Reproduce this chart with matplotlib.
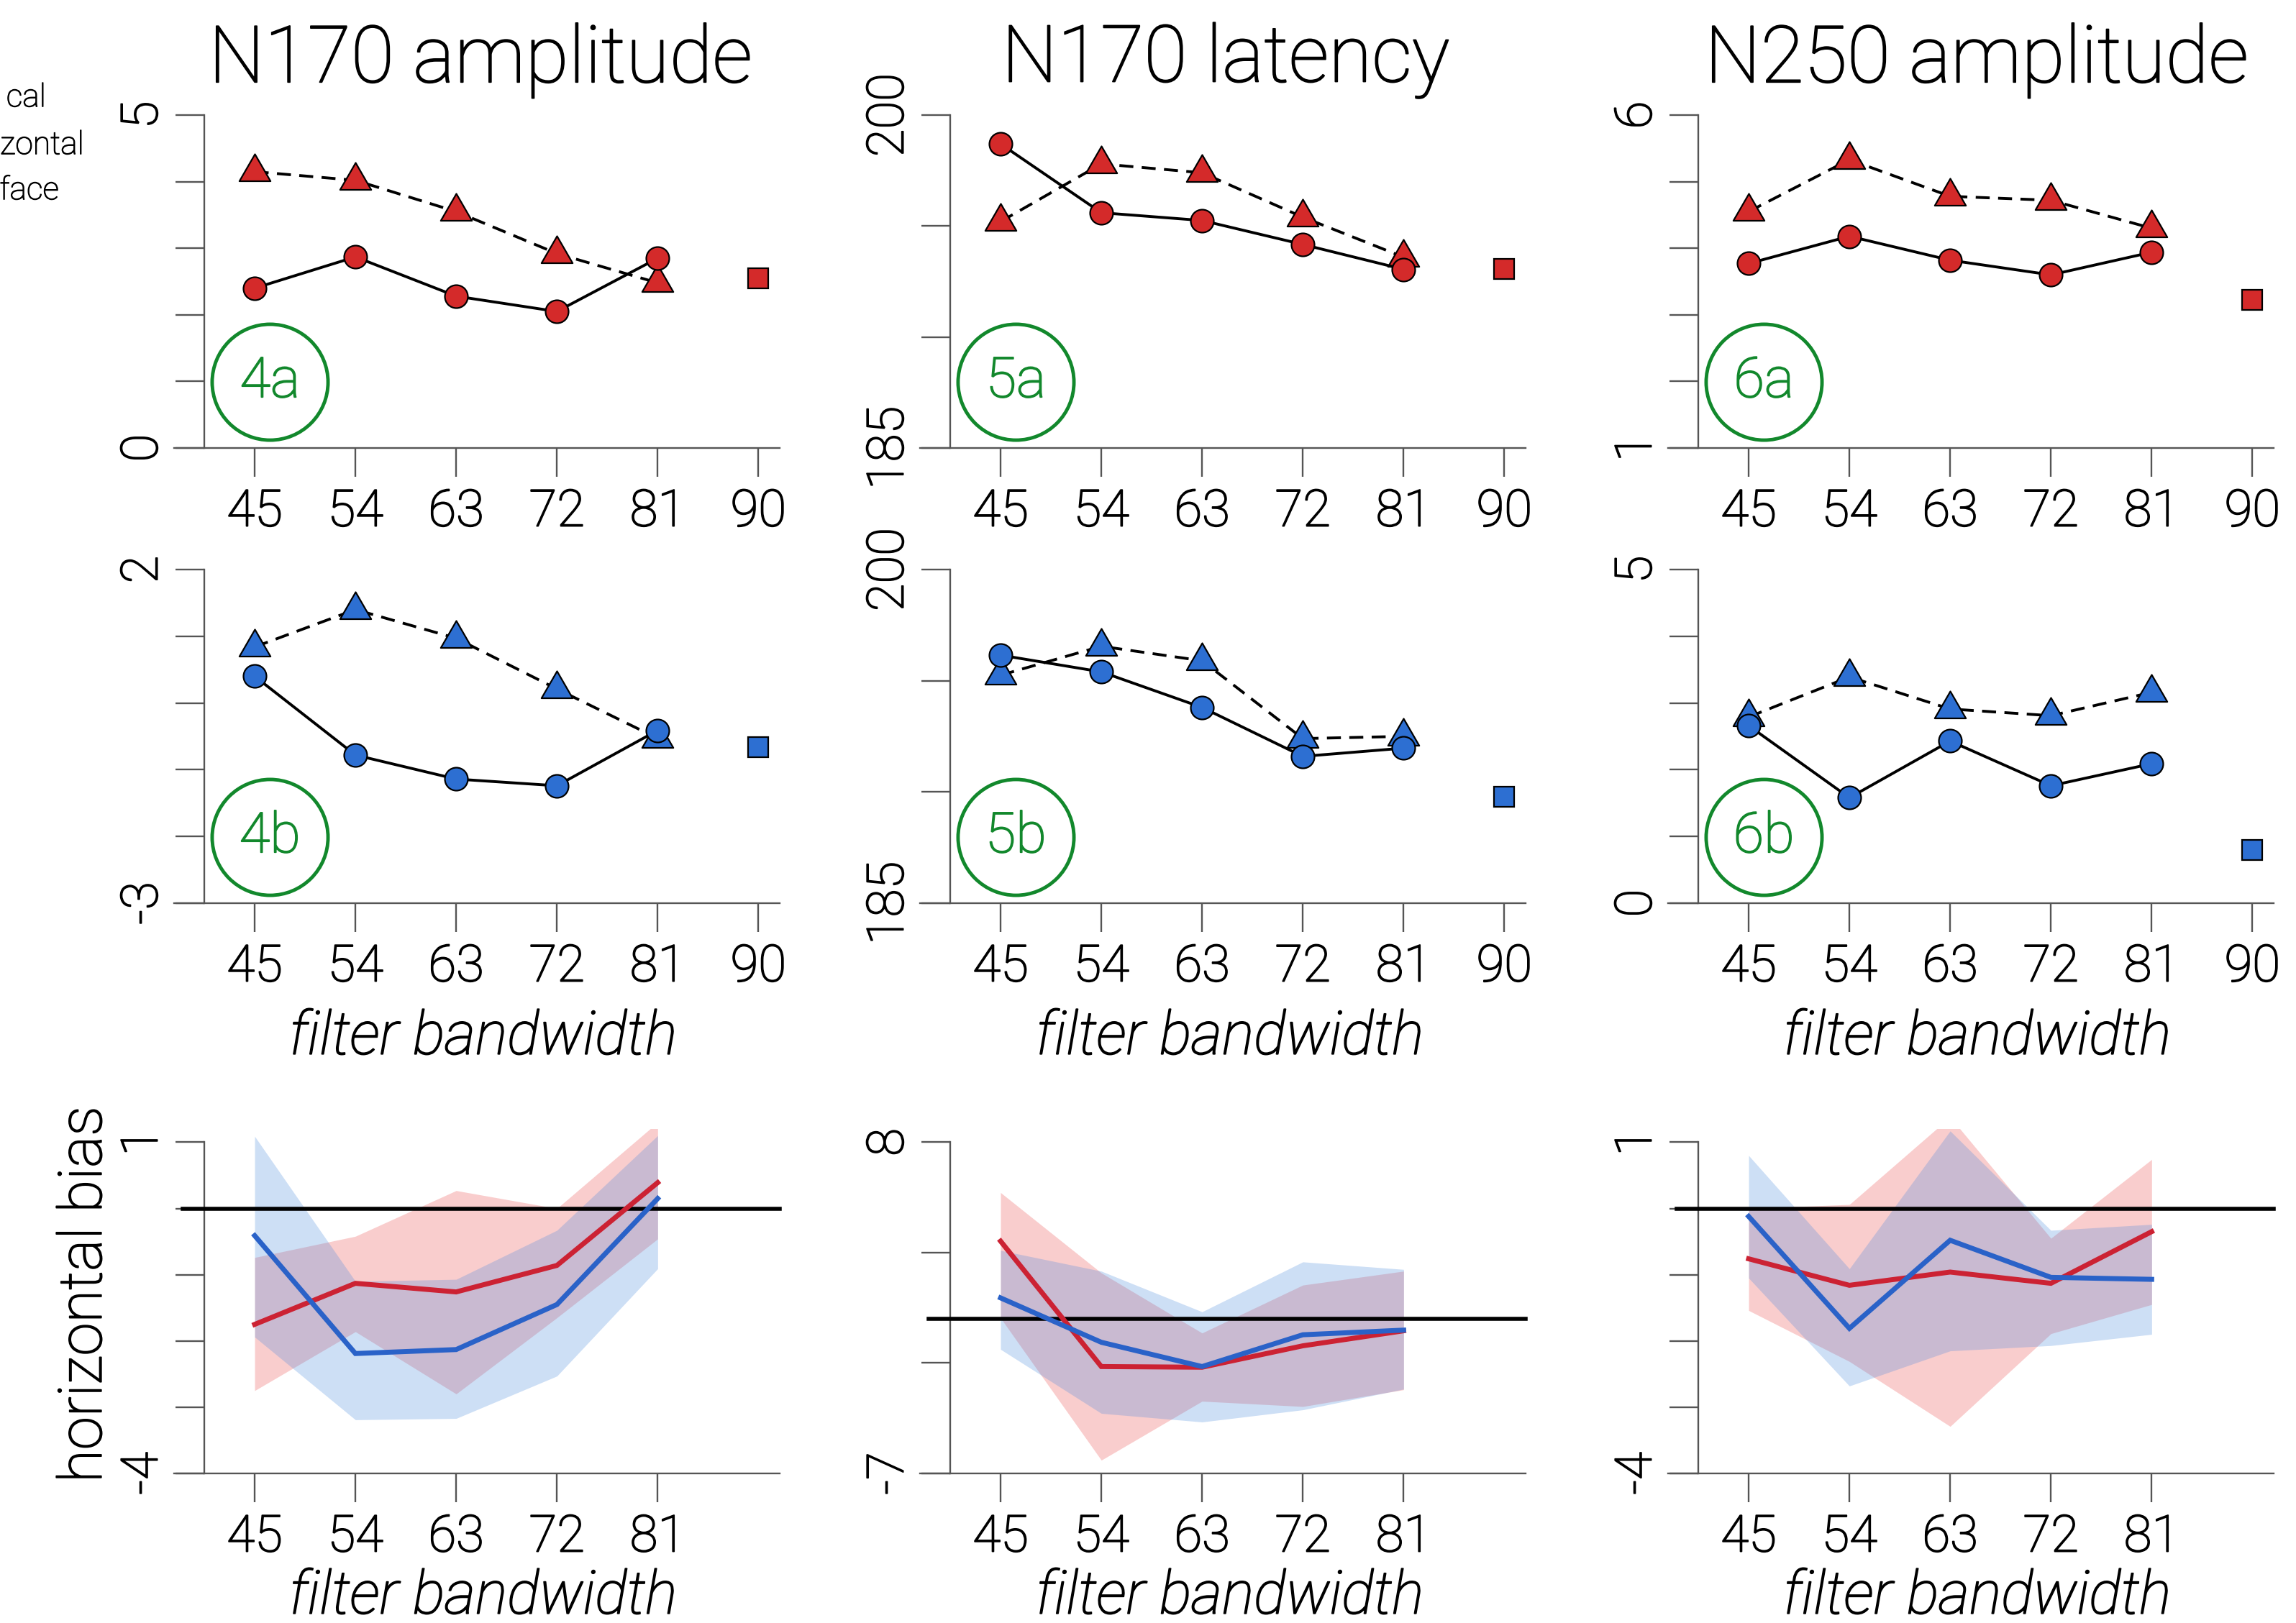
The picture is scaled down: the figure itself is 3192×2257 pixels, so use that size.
import matplotlib
matplotlib.use("Agg")
import matplotlib.pyplot as plt
from matplotlib.path import Path
from matplotlib import patheffects
import numpy as np

plt.rcParams['font.family'] = ['Roboto', 'DejaVu Sans']
plt.rcParams['font.weight'] = 'light'
plt.rcParams['axes.unicode_minus'] = False

# ---------------- data ----------------
bandwidth = [45, 54, 63, 72, 81]
full_bw = 90
tick_bw = [45, 54, 63, 72, 81, 90]

# N170 amplitude
amp170_a_circle = [2.40, 2.87, 2.28, 2.05, 2.85]
amp170_a_tri = [4.15, 4.02, 3.55, 2.92, 2.48]
amp170_a_sq = 2.55
amp170_b_circle = [0.40, -0.78, -1.14, -1.24, -0.41]
amp170_b_tri = [0.84, 1.40, 0.97, 0.21, -0.53]
amp170_b_sq = -0.66
# N170 latency
lat170_a_circle = [198.7, 195.6, 195.25, 194.17, 193.05]
lat170_a_tri = [195.2, 197.8, 197.4, 195.4, 193.6]
lat170_a_sq = 193.06
lat170_b_circle = [196.15, 195.4, 193.8, 191.6, 191.97]
lat170_b_tri = [195.25, 196.55, 195.9, 192.4, 192.5]
lat170_b_sq = 189.8
# N250 amplitude
amp250_a_circle = [3.77, 4.18, 3.82, 3.60, 3.94]
amp250_a_tri = [4.55, 5.33, 4.78, 4.72, 4.30]
amp250_a_sq = 3.23
amp250_b_circle = [2.66, 1.58, 2.43, 1.76, 2.09]
amp250_b_tri = [2.79, 3.39, 2.91, 2.81, 3.16]
amp250_b_sq = 0.80

# horizontal bias (bottom row)
b170amp_red = [-1.75, -1.13, -1.26, -0.86, 0.39]
b170amp_red_lo = [-2.75, -1.86, -2.80, -1.65, -0.46]
b170amp_red_hi = [-0.74, -0.42, 0.27, 0.0, 1.3]
b170amp_blue = [-0.41, -2.19, -2.13, -1.45, 0.15]
b170amp_blue_lo = [-1.94, -3.19, -3.17, -2.53, -0.91]
b170amp_blue_hi = [1.09, -1.10, -1.07, -0.33, 1.10]

b170lat_red = [3.52, -2.16, -2.19, -1.22, -0.54]
b170lat_red_lo = [0.04, -6.40, -3.73, -3.97, -3.21]
b170lat_red_hi = [5.72, 2.08, -0.64, 1.53, 2.16]
b170lat_blue = [0.95, -1.06, -2.16, -0.72, -0.51]
b170lat_blue_lo = [-1.38, -4.28, -4.67, -4.12, -3.18]
b170lat_blue_hi = [3.10, 2.16, 0.32, 2.58, 2.24]

b250amp_red = [-0.76, -1.16, -0.96, -1.13, -0.35]
b250amp_red_lo = [-1.54, -2.31, -3.29, -1.89, -1.45]
b250amp_red_hi = [0.0, 0.06, 1.38, -0.45, 0.74]
b250amp_blue = [-0.12, -1.81, -0.48, -1.04, -1.07]
b250amp_blue_lo = [-1.05, -2.68, -2.15, -2.07, -1.90]
b250amp_blue_hi = [0.80, -0.91, 1.17, -0.33, -0.24]

titles = ["N170 amplitude", "N170 latency", "N250 amplitude"]
panel_tags_a = ["4a", "5a", "6a"]
panel_tags_b = ["4b", "5b", "6b"]
legend_fragments = ["cal", "zontal", "face"]
yr_a = [(0, 5, 1), (185, 200, 5), (1, 6, 1)]
yr_b = [(-3, 2, 1), (185, 200, 5), (0, 5, 1)]
yr_c = [(-4, 1, 1), (-7, 8, 5), (-4, 1, 1)]

# ---------------- style ----------------
RED = '#d42a2a'
BLUE = '#2d6fd2'
LRED = '#cc2233'
LBLUE = '#2a62c8'
GREEN = '#12882c'
AXC = '#555555'
W, H = 3192, 2257
XL = (40.5, 91.9)


def thick(color='black', lw=1.2):
    return [patheffects.withStroke(linewidth=lw, foreground=color)]


tri = Path([(0, 1), (-0.866, -0.5), (0.866, -0.5), (0, 1)],
           [Path.MOVETO, Path.LINETO, Path.LINETO, Path.CLOSEPOLY])

fig = plt.figure(figsize=(W / 100, H / 100), dpi=100)

col_left = [284, 1321, 2361]
ax_w = 800


def make_ax(left_px, top_px, bottom_px):
    return fig.add_axes([left_px / W, 1 - bottom_px / H, ax_w / W, (bottom_px - top_px) / H])


def style_axes(ax, lo, hi, step, xt, top_pad=0.0):
    ax.set_xlim(*XL)
    ax.set_ylim(lo, hi + top_pad * (hi - lo))
    for s in ax.spines.values():
        s.set_visible(False)
    ax.plot([XL[0], XL[0]], [lo, hi], color=AXC, lw=1.7, clip_on=False, zorder=1)
    ax.plot([37.8, XL[1]], [lo, lo], color=AXC, lw=1.7, clip_on=False, zorder=1)
    yt = list(np.arange(lo, hi + step / 2, step))
    ax.set_yticks(yt)
    labs = [''] * len(yt)
    labs[0] = str(int(lo))
    labs[-1] = str(int(hi))
    ax.set_yticklabels(labs, rotation=90, va='center', fontsize=51)
    ax.set_xticks(xt)
    ax.set_xticklabels([str(v) for v in xt], fontsize=51)
    ax.tick_params(axis='both', length=29, width=1.7, color=AXC, labelcolor='black')
    ax.tick_params(axis='y', pad=8)
    ax.tick_params(axis='x', pad=11)
    for lab in ax.get_xticklabels() + ax.get_yticklabels():
        lab.set_path_effects(thick('black', 1.3))
    ax.patch.set_visible(False)


def tag(ax, txt, h_px):
    ax.plot([0.114], [92 / h_px], 'o', transform=ax.transAxes, ms=116, mfc='none',
            mec=GREEN, mew=3.5, clip_on=False, zorder=2)
    ax.text(0.114, 92 / h_px, txt, transform=ax.transAxes, ha='center', va='center',
            color=GREEN, fontsize=56, zorder=3, path_effects=thick(GREEN, 1.3))


def markers_panel(ax, circ, trian, sq, col):
    ax.plot(bandwidth, trian, color='black', lw=2.8, ls=(0, (5, 3)), zorder=3,
            marker=tri, ms=36, mfc=col, mec='black', mew=1.6, clip_on=False)
    ax.plot(bandwidth, circ, color='black', lw=2.8, ls='-', zorder=4,
            marker='o', ms=23, mfc=col, mec='black', mew=1.6, clip_on=False)
    ax.plot([full_bw], [sq], ls='none', marker='s', ms=20, mfc=col, mec='black',
            mew=1.6, zorder=4, clip_on=False)


data_a = [(amp170_a_circle, amp170_a_tri, amp170_a_sq),
          (lat170_a_circle, lat170_a_tri, lat170_a_sq),
          (amp250_a_circle, amp250_a_tri, amp250_a_sq)]
data_b = [(amp170_b_circle, amp170_b_tri, amp170_b_sq),
          (lat170_b_circle, lat170_b_tri, lat170_b_sq),
          (amp250_b_circle, amp250_b_tri, amp250_b_sq)]
data_c = [(b170amp_red, b170amp_red_lo, b170amp_red_hi, b170amp_blue, b170amp_blue_lo, b170amp_blue_hi),
          (b170lat_red, b170lat_red_lo, b170lat_red_hi, b170lat_blue, b170lat_blue_lo, b170lat_blue_hi),
          (b250amp_red, b250amp_red_lo, b250amp_red_hi, b250amp_blue, b250amp_blue_lo, b250amp_blue_hi)]

title_x = [668, 1704, 2748]
xlabel_x = [672, 1710, 2749]

for i in range(3):
    # row a
    ax = make_ax(col_left[i], 160, 623)
    lo, hi, st = yr_a[i]
    style_axes(ax, lo, hi, st, tick_bw)
    c, t, s = data_a[i]
    markers_panel(ax, c, t, s, RED)
    tag(ax, panel_tags_a[i], 463)

    # row b
    ax = make_ax(col_left[i], 792, 1256)
    lo, hi, st = yr_b[i]
    style_axes(ax, lo, hi, st, tick_bw)
    c, t, s = data_b[i]
    markers_panel(ax, c, t, s, BLUE)
    tag(ax, panel_tags_b[i], 464)

    # row c
    ax = make_ax(col_left[i], 1570, 2049)
    lo, hi, st = yr_c[i]
    style_axes(ax, lo, hi, st, bandwidth, top_pad=0.04)
    r, rlo, rhi, b, blo, bhi = data_c[i]
    ax.fill_between(bandwidth, rlo, rhi, color=(0.92, 0.25, 0.25), alpha=0.26, lw=0, zorder=1)
    ax.fill_between(bandwidth, blo, bhi, color=(0.30, 0.55, 0.87), alpha=0.28, lw=0, zorder=1)
    ax.plot([38.6, XL[1]], [0, 0], color='black', lw=4, clip_on=False, zorder=2)
    ax.plot(bandwidth, r, color=LRED, lw=5, zorder=3, solid_joinstyle='miter')
    ax.plot(bandwidth, b, color=LBLUE, lw=5, zorder=3, solid_joinstyle='miter')

    fig.text(title_x[i] / W, 1 - 84 / H, titles[i], ha='center', va='center', fontsize=79,
             path_effects=thick('black', 1.3))
    fig.text(xlabel_x[i] / W, 1 - 1443 / H, "filter bandwidth", ha='center', va='center',
             fontsize=60, style='italic', path_effects=thick('black', 1.3))
    fig.text(xlabel_x[i] / W, 1 - 2221 / H, "filter bandwidth", ha='center', va='center',
             fontsize=60, style='italic', path_effects=thick('black', 1.3))

fig.text(118 / W, 1 - 1800 / H, "horizontal bias", rotation=90, ha='center', va='center',
         fontsize=60, path_effects=thick('black', 1.3))

# legend labels, of which only the ends are visible at the left edge
fig.text(64 / W, 1 - 136 / H, legend_fragments[0], ha='right', va='center', fontsize=32,
         path_effects=thick('black', 0.8))
fig.text(117 / W, 1 - 202 / H, legend_fragments[1], ha='right', va='center', fontsize=32,
         path_effects=thick('black', 0.8))
fig.text(82 / W, 1 - 265 / H, legend_fragments[2], ha='right', va='center', fontsize=32,
         path_effects=thick('black', 0.8))

fig.savefig("out.png", dpi=100)
